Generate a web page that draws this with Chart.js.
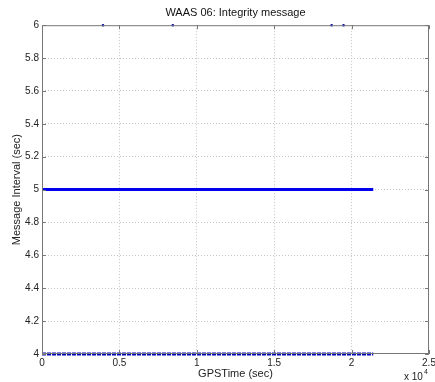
<!DOCTYPE html>
<html>
<head>
<meta charset="utf-8">
<script src="https://cdn.jsdelivr.net/npm/chart.js@4/dist/chart.umd.min.js"></script>
<style>
  body { margin: 0; background: #fff; }
</style>
</head>
<body>
<canvas id="c" width="435" height="382"></canvas>
<script>
// values (GPS time in seconds)
const intervalTimes = [0, 21400];
const intervalValues = [5, 5];
const floorTimes = [0, 21400];
const floorValues = [4, 4];
const peakTimes = [3940, 8450, 18710, 19480];
const peakValues = [6, 6, 6, 6];

const xTickValues = [0, 5000, 10000, 15000, 20000, 25000];
const yTickValues = [4, 4.2, 4.4, 4.6, 4.8, 5, 5.2, 5.4, 5.6, 5.8, 6];

const FONT = "'Liberation Sans', Arial, sans-serif";
Chart.defaults.font.family = FONT;
Chart.defaults.font.size = 11;
Chart.defaults.color = '#222';

const toPoints = (xs, ys) => xs.map((x, i) => ({ x: x, y: ys[i] }));

// box, inward ticks and the "x 10^4" exponent, like a matlab axes
const matlabBox = {
  id: 'matlabBox',
  afterDatasetsDraw(chart) {
    const { ctx, chartArea: a, scales } = chart;
    ctx.save();
    ctx.strokeStyle = '#777';
    ctx.lineWidth = 1;
    ctx.strokeRect(a.left + 0.5, a.top + 0.5, a.right - a.left - 1, a.bottom - a.top - 1);
    ctx.beginPath();
    xTickValues.forEach(v => {
      const px = Math.round(scales.x.getPixelForValue(v)) + 0.5;
      ctx.moveTo(px, a.bottom); ctx.lineTo(px, a.bottom - 4);
      ctx.moveTo(px, a.top); ctx.lineTo(px, a.top + 4);
    });
    yTickValues.forEach(v => {
      const py = Math.round(scales.y.getPixelForValue(v)) + 0.5;
      ctx.moveTo(a.left, py); ctx.lineTo(a.left + 4, py);
      ctx.moveTo(a.right, py); ctx.lineTo(a.right - 4, py);
    });
    ctx.stroke();
    ctx.restore();
  },
  afterDraw(chart) {
    const ctx = chart.ctx;
    ctx.save();
    ctx.fillStyle = '#222';
    ctx.textBaseline = 'middle';
    ctx.font = '10px ' + FONT;
    ctx.fillText('x 10', 404, 377);
    const w = ctx.measureText('x 10').width;
    ctx.font = '7px ' + FONT;
    ctx.fillText('4', 404 + w + 1, 372);
    ctx.restore();
  }
};

new Chart(document.getElementById('c'), {
  type: 'line',
  data: {
    datasets: [
      {
        label: 'interval',
        data: toPoints(intervalTimes, intervalValues),
        borderColor: '#0000ee',
        borderWidth: 3,
        pointRadius: 0
      },
      {
        label: 'floor',
        data: toPoints(floorTimes, floorValues),
        borderColor: '#0000bb',
        borderWidth: 3,
        borderDash: [4, 1],
        pointRadius: 0,
        clip: false
      },
      {
        label: 'peaks',
        data: toPoints(peakTimes, peakValues),
        showLine: false,
        pointRadius: 1.3,
        pointBackgroundColor: '#0000aa',
        pointBorderWidth: 0,
        clip: false
      }
    ]
  },
  options: {
    responsive: false,
    animation: false,
    layout: { padding: { left: 0, right: 6, top: 0, bottom: 0 } },
    plugins: {
      legend: { display: false },
      tooltip: { enabled: false },
      title: {
        display: true,
        text: 'WAAS 06: Integrity message',
        fullSize: false,
        color: '#111',
        font: { size: 11, weight: 'normal' },
        padding: { top: 6, bottom: 6 }
      }
    },
    scales: {
      x: {
        type: 'linear',
        min: 0,
        max: 25000,
        afterBuildTicks: s => { s.ticks = xTickValues.map(v => ({ value: v })); },
        afterFit: s => { s.height = 28; s.paddingLeft = 0; s.paddingRight = 0; },
        ticks: {
          padding: 3,
          maxRotation: 0,
          font: { size: 10 },
          callback: v => String(v / 10000)
        },
        grid: {
          drawTicks: false,
          color: c => (c.tick && (c.tick.value === 0 || c.tick.value === 25000)) ? 'rgba(0,0,0,0)' : '#c4c4c4',
          lineWidth: 1
        },
        border: { display: false, dash: [1, 2] },
        title: {
          display: true,
          text: 'GPSTime (sec)',
          font: { size: 11 },
          padding: { top: 0, bottom: 1 }
        }
      },
      y: {
        min: 4,
        max: 6,
        afterBuildTicks: s => { s.ticks = yTickValues.map(v => ({ value: v })); },
        afterFit: s => { s.width = 42; },
        ticks: {
          padding: 3,
          font: { size: 10 },
          callback: v => String(Number(v.toFixed(1)))
        },
        grid: {
          drawTicks: false,
          color: c => (c.tick && (c.tick.value === 4 || c.tick.value === 6)) ? 'rgba(0,0,0,0)' : '#c4c4c4',
          lineWidth: 1
        },
        border: { display: false, dash: [1, 2] },
        title: {
          display: true,
          text: 'Message Interval (sec)',
          font: { size: 11 },
          padding: { top: 10, bottom: 0 }
        }
      }
    }
  },
  plugins: [matlabBox]
});
</script>
</body>
</html>
